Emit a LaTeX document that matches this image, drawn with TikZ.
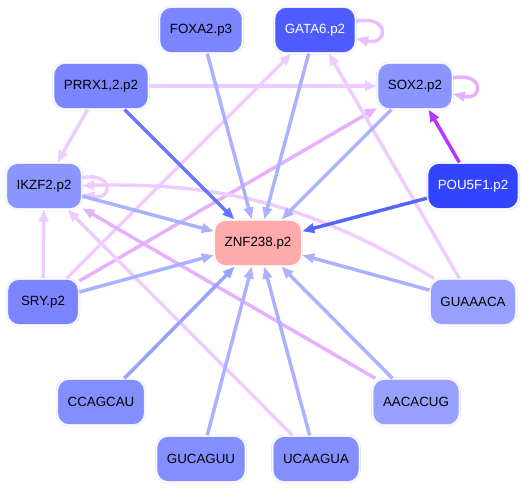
\documentclass[tikz,border=0pt]{standalone}
\usepackage{fontspec}
\setmainfont{Liberation Sans}
\usepackage{xcolor}
\usetikzlibrary{arrows.meta}

\definecolor{nodeA}{HTML}{7A85FF}
\definecolor{nodeB}{HTML}{4D5BFF}
\definecolor{nodeC}{HTML}{8A95FF}
\definecolor{nodeD}{HTML}{3344FF}
\definecolor{nodeE}{HTML}{98A0FF}
\definecolor{nodeF}{HTML}{838EFF}
\definecolor{targetPink}{HTML}{FFAAAA}
\definecolor{rimBlue}{HTML}{DDE0FF}
\definecolor{rimPink}{HTML}{FFE0E0}
\definecolor{lineBlue}{HTML}{AAB2FF}
\definecolor{midBlue}{HTML}{99A1FF}
\definecolor{deepBlue}{HTML}{6675FF}
\definecolor{strongBlue}{HTML}{5566FF}
\definecolor{lightPink}{HTML}{EECCFF}
\definecolor{midPink}{HTML}{E4B0FF}
\definecolor{loopPink}{HTML}{E6C0FF}
\definecolor{violet}{HTML}{BB33FF}

\begin{document}
\begin{tikzpicture}[
  x=0.75pt, y=-0.75pt,
  gene/.style={rectangle, rounded corners=9pt, fill=nodeA, draw=rimBlue,
    double=white, double distance=0.9pt, line width=0.4pt,
    inner xsep=8pt, minimum width=54pt, minimum height=35pt,
    font=\fontsize{10}{12}\selectfont},
  target/.style={gene, fill=targetPink, draw=rimPink},
  link/.style={line width=2.6pt, -{Triangle[length=9pt,width=7pt]}},
  selfloop/.style={link, out=12, in=-12, looseness=5}
]
  \useasboundingbox (0,0) rectangle (524,489);

  % outer ring of regulators and motifs
  \node[gene] (foxa) at (201,30) {FOXA2.p3};
  \node[gene, fill=nodeB, text=white] (gata) at (315,30) {GATA6.p2};
  \node[gene] (prrx) at (101,86) {PRRX1,2.p2};
  \node[gene, fill=nodeC] (sox) at (415,86) {SOX2.p2};
  \node[gene, fill=nodeC] (ikzf) at (44,186) {IKZF2.p2};
  \node[gene, fill=nodeD, text=white] (pou) at (473,186) {POU5F1.p2};
  \node[gene, fill=nodeA] (sry) at (43,302) {SRY.p2};
  \node[gene, fill=nodeE] (guaa) at (473,302) {GUAAACA};
  \node[gene, fill=nodeF] (ccag) at (101,402) {CCAGCAU};
  \node[gene, fill=nodeE] (aaca) at (416,402) {AACACUG};
  \node[gene, fill=nodeF] (gucag) at (201,459) {GUCAGUU};
  \node[gene, fill=nodeF] (ucaa) at (316,459) {UCAAGUA};

  \node[target] (znf) at (258,243) {ZNF238.p2};

  % pink regulatory links
  \draw[link, draw=lightPink] (prrx) -- (sox);
  \draw[link, draw=lightPink] (prrx) -- (ikzf);
  \draw[link, draw=lightPink] (sry) -- (gata);
  \draw[link, draw=midPink] (sry) -- (sox);
  \draw[link, draw=lightPink] (sry) -- (ikzf);
  \draw[link, draw=lightPink] (guaa) -- (gata);
  \draw[link, draw=lightPink] (guaa) to[bend right=16] (ikzf);
  \draw[link, draw=midPink] (aaca) -- (ikzf);
  \draw[link, draw=lightPink] (ucaa) -- (ikzf);
  \draw[link, draw=violet] (pou) -- (sox);

  % self loops
  \draw[selfloop, draw=loopPink] (gata) to (gata);
  \draw[selfloop, draw=midPink] (sox) to (sox);
  \draw[selfloop, draw=lightPink] (ikzf) to (ikzf);

  % blue links into the target
  \draw[link, draw=lineBlue] (foxa) -- (znf);
  \draw[link, draw=lineBlue] (gata) -- (znf);
  \draw[link, draw=deepBlue] (prrx) -- (znf);
  \draw[link, draw=lineBlue] (sox) -- (znf);
  \draw[link, draw=lineBlue] (ikzf) -- (znf);
  \draw[link, draw=strongBlue] (pou) -- (znf);
  \draw[link, draw=lineBlue] (sry) -- (znf);
  \draw[link, draw=lineBlue] (guaa) -- (znf);
  \draw[link, draw=midBlue] (ccag) -- (znf);
  \draw[link, draw=lineBlue] (aaca) -- (znf);
  \draw[link, draw=lineBlue] (gucag) -- (znf);
  \draw[link, draw=lineBlue] (ucaa) -- (znf);
\end{tikzpicture}
\end{document}
